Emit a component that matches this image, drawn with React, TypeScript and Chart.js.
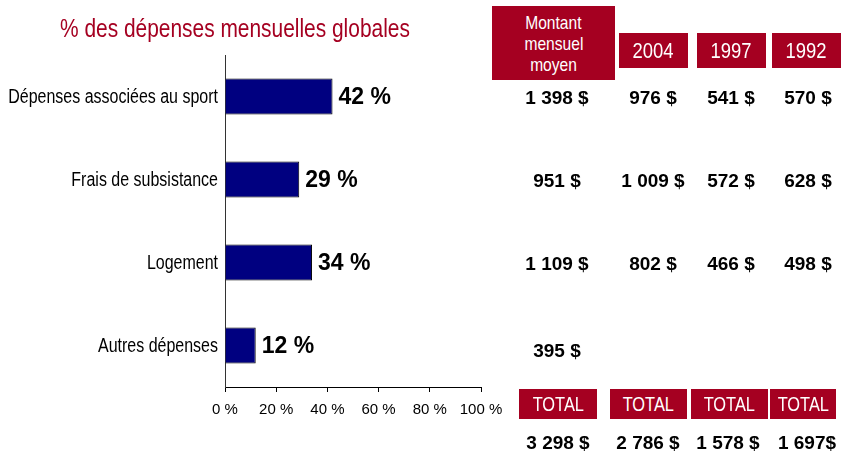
import React, { useEffect, useRef } from "react";
import { Chart, registerables } from "chart.js";

Chart.register(...registerables);

const categories = [
  "Dépenses associées au sport",
  "Frais de subsistance",
  "Logement",
  "Autres dépenses",
];
const shares = [42, 29, 34, 12];
const xTicks = [0, 20, 40, 60, 80, 100];

const tableHeader = "Montant mensuel moyen";
const yearHeaders = ["2004", "1997", "1992"];
const avgAmounts = ["1 398 $", "951 $", "1 109 $", "395 $"];
const amounts2004 = ["976 $", "1 009 $", "802 $", ""];
const amounts1997 = ["541 $", "572 $", "466 $", ""];
const amounts1992 = ["570 $", "628 $", "498 $", ""];
const totalLabel = "TOTAL";
const totals = ["3 298 $", "2 786 $", "1 578 $", "1 697$"];

const RED = "#A50021";
const SANS = '"Liberation Sans", Arial, sans-serif';
const NARROW_SCALE = 0.82;

const rowY = [98, 181, 264, 351];
const colX = [557, 653, 731, 808];
const totalColX = [558, 648, 728, 807];

const headerBoxes = [
  { left: 492, top: 6, width: 123, height: 74 },
  { left: 619, top: 33, width: 69, height: 35 },
  { left: 697, top: 33, width: 69, height: 35 },
  { left: 772, top: 33, width: 69, height: 35 },
];
const totalBoxes = [
  { left: 519, width: 78 },
  { left: 610, width: 77 },
  { left: 691, width: 77 },
  { left: 770, width: 66 },
];

const valueLabels = {
  id: "valueLabels",
  afterDatasetsDraw(chart: any) {
    const ctx = chart.ctx;
    const meta = chart.getDatasetMeta(0);
    ctx.save();
    ctx.font = `bold 23px ${SANS}`;
    ctx.fillStyle = "#000";
    ctx.textAlign = "left";
    ctx.textBaseline = "middle";
    meta.data.forEach((bar: any, i: number) => {
      ctx.fillText(`${shares[i]} %`, bar.x + 6, bar.y + 1);
    });
    ctx.restore();
  },
};

const narrowCategoryLabels = {
  id: "narrowCategoryLabels",
  afterDraw(chart: any) {
    const ctx = chart.ctx;
    const y = chart.scales.y;
    ctx.save();
    ctx.font = `19.5px ${SANS}`;
    ctx.fillStyle = "#000";
    ctx.textAlign = "right";
    ctx.textBaseline = "middle";
    categories.forEach((label, i) => {
      const py = y.getPixelForValue(i);
      const px = y.right - 7;
      ctx.save();
      ctx.translate(px, py);
      ctx.scale(NARROW_SCALE, 1);
      ctx.fillText(label, 0, 1);
      ctx.restore();
    });
    ctx.restore();
  },
};

function Narrow({ children, origin = "center" }: { children: any; origin?: string }) {
  return (
    <span
      style={{
        display: "inline-block",
        transform: `scaleX(${NARROW_SCALE})`,
        transformOrigin: origin,
        whiteSpace: "nowrap",
      }}
    >
      {children}
    </span>
  );
}

export default function App() {
  const canvasRef = useRef<HTMLCanvasElement | null>(null);

  useEffect(() => {
    document.body.style.margin = "0";
    const canvas = canvasRef.current;
    if (!canvas) return;
    const chart = new Chart(canvas, {
      type: "bar",
      data: {
        labels: categories,
        datasets: [
          {
            data: shares,
            backgroundColor: "#000080",
            borderColor: "#000",
            borderWidth: 1,
            barPercentage: 0.434,
            categoryPercentage: 1,
          },
        ],
      },
      options: {
        indexAxis: "y",
        responsive: false,
        animation: false,
        layout: { padding: { top: 55, right: 362, left: 0, bottom: 0 } },
        plugins: {
          legend: { display: false },
          tooltip: { enabled: false },
          title: { display: false },
        },
        scales: {
          x: {
            min: 0,
            max: 100,
            afterBuildTicks: (s: any) => {
              s.ticks = xTicks.map((v) => ({ value: v }));
            },
            afterFit: (s: any) => {
              s.height = 64;
            },
            ticks: {
              callback: (v: any) => `${v} %`,
              font: { family: SANS, size: 15 },
              color: "#000",
              padding: 9,
              maxRotation: 0,
              autoSkip: false,
            },
            grid: {
              drawOnChartArea: false,
              drawTicks: true,
              tickLength: 5,
              color: "#000",
            },
            border: { display: true, color: "#000", width: 1 },
          },
          y: {
            afterFit: (s: any) => {
              s.width = 225;
            },
            ticks: { display: false },
            grid: { display: false, drawTicks: false },
            border: { display: true, color: "#333", width: 1 },
          },
        },
      },
      plugins: [valueLabels, narrowCategoryLabels],
    });
    return () => chart.destroy();
  }, []);

  const valueCols = [avgAmounts, amounts2004, amounts1997, amounts1992];
  const headers = [tableHeader, ...yearHeaders];

  return (
    <div style={{ position: "relative", width: 843, height: 451, background: "#fff", overflow: "hidden" }}>
      <canvas ref={canvasRef} width={843} height={451} style={{ position: "absolute", left: 0, top: 0 }} />
      <div
        style={{
          position: "absolute",
          left: 60,
          top: 13,
          fontFamily: SANS,
          fontSize: 25.5,
          lineHeight: "30px",
          color: RED,
          whiteSpace: "nowrap",
        }}
      >
        <Narrow origin="left">% des dépenses mensuelles globales</Narrow>
      </div>
      {headerBoxes.map((b, i) => (
        <div
          key={"h" + i}
          style={{
            position: "absolute",
            left: b.left,
            top: b.top,
            width: b.width,
            height: b.height,
            background: RED,
            color: "#fff",
            fontFamily: SANS,
            fontSize: i === 0 ? 19 : 22.5,
            lineHeight: i === 0 ? "21px" : "35px",
            display: "flex",
            alignItems: "center",
            justifyContent: "center",
            textAlign: "center",
          }}
        >
          {i === 0 ? (
            <div>
              {headers[0].split(" ").map((w, k) => (
                <div key={k}>
                  <Narrow>{w}</Narrow>
                </div>
              ))}
            </div>
          ) : (
            <Narrow>{headers[i]}</Narrow>
          )}
        </div>
      ))}
      {valueCols.map((col, c) =>
        col.map((v, r) =>
          v ? (
            <div
              key={`v${c}-${r}`}
              style={{
                position: "absolute",
                left: colX[c] - 60,
                width: 120,
                top: rowY[r] - 12,
                height: 24,
                lineHeight: "24px",
                textAlign: "center",
                fontFamily: SANS,
                fontWeight: "bold",
                fontSize: 19,
                color: "#000",
                whiteSpace: "nowrap",
              }}
            >
              {v}
            </div>
          ) : null
        )
      )}
      {totalBoxes.map((b, i) => (
        <div
          key={"t" + i}
          style={{
            position: "absolute",
            left: b.left,
            top: 389,
            width: b.width,
            height: 30,
            background: RED,
            color: "#fff",
            fontFamily: SANS,
            fontSize: 20,
            lineHeight: "30px",
            textAlign: "center",
          }}
        >
          <Narrow>{totalLabel}</Narrow>
        </div>
      ))}
      {totals.map((v, i) => (
        <div
          key={"tv" + i}
          style={{
            position: "absolute",
            left: totalColX[i] - 60,
            width: 120,
            top: 431,
            height: 24,
            lineHeight: "24px",
            textAlign: "center",
            fontFamily: SANS,
            fontWeight: "bold",
            fontSize: 19,
            color: "#000",
            whiteSpace: "nowrap",
          }}
        >
          {v}
        </div>
      ))}
    </div>
  );
}
